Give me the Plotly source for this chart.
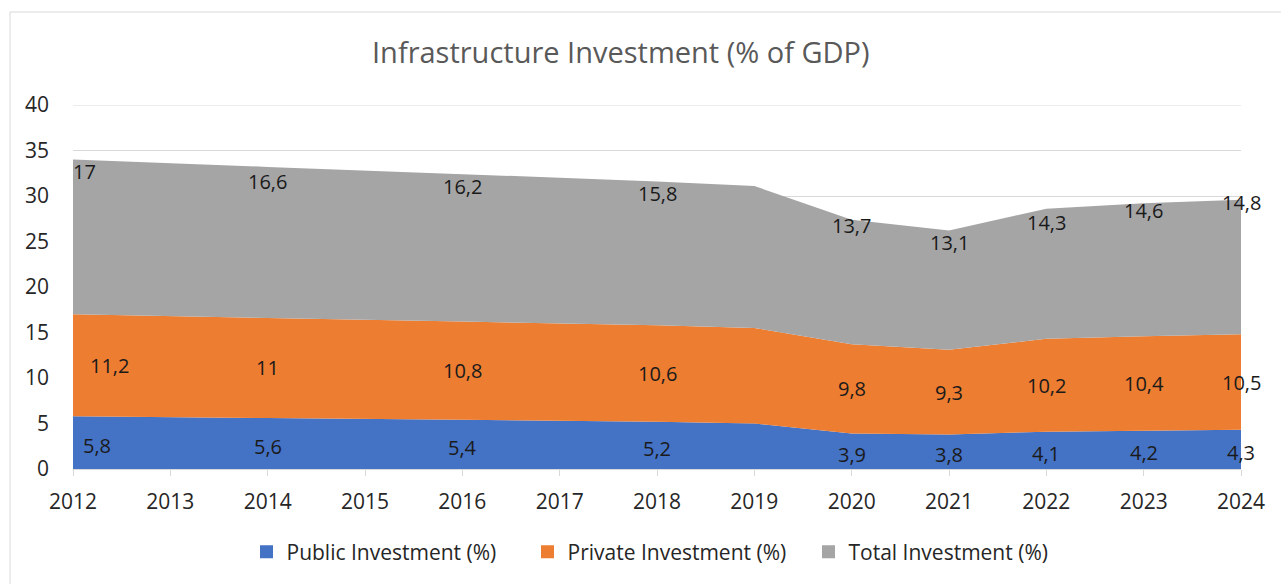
import plotly.graph_objects as go

# ---- data ----
years = [2012, 2014, 2016, 2018, 2019, 2020, 2021, 2022, 2023, 2024]
public = [5.8, 5.6, 5.4, 5.2, 5.0, 3.9, 3.8, 4.1, 4.2, 4.3]
private = [11.2, 11.0, 10.8, 10.6, 10.5, 9.8, 9.3, 10.2, 10.4, 10.5]
total = [17, 16.6, 16.2, 15.8, 15.6, 13.7, 13.1, 14.3, 14.6, 14.8]
labelled = [True, True, True, True, False, True, True, True, True, True]
series_names = ["Public Investment (%)", "Private Investment (%)", "Total Investment (%)"]
x_ticks = list(range(2012, 2025))
y_ticks = [0, 5, 10, 15, 20, 25, 30, 35, 40]

# ---- style ----
colors = ["#4472C4", "#ED7D31", "#A5A5A5"]
FONT = "Open Sans"
W, H = 1281, 584
L, R, T, B = 73, 40, 105, 115
# pixel offset of the top-series labels below the area's upper edge (label placement style)
top_label_drop = {2012: 12, 2014: 15, 2016: 12, 2018: 12, 2020: 6,
                  2021: 12, 2022: 14, 2023: 7, 2024: 3}

def fmt(v):
    return f"{v:g}".replace(".", ",")

fig = go.Figure()
series = [public, private, total]
for name, vals, col in zip(series_names, series, colors):
    fig.add_trace(go.Scatter(
        x=years, y=vals, name=name, mode="none", stackgroup="one",
        fillcolor=col, line=dict(width=0), showlegend=False,
        hoverinfo="x+y+name"))

# legend proxies (square swatches)
for name, col in zip(series_names, colors):
    fig.add_trace(go.Scatter(
        x=[None], y=[None], name=name, mode="markers",
        marker=dict(symbol="square", size=13, color=col)))

# data labels
first_xshift = [24, 36, 11]
annotations = []
for i, yr in enumerate(years):
    if not labelled[i]:
        continue
    base = 0.0
    for s, vals in enumerate(series):
        v = vals[i]
        if s < 2:
            ypos = base + v / 2
            yshift = -3 if s == 0 else 0
        else:
            ypos = base + v
            yshift = -top_label_drop.get(yr, 11)
        xshift = first_xshift[s] if i == 0 else 0
        annotations.append(dict(
            x=yr, y=ypos, xref="x", yref="y", text=fmt(v), showarrow=False,
            xshift=xshift, yshift=yshift,
            font=dict(family=FONT, size=20, color="#1a1a1a")))
        base += v

pw = W - L - R
ph = H - T - B
annotations.append(dict(
    x=(621 - L) / pw, y=(H - 51 - B) / ph, xref="paper", yref="paper",
    text="Infrastructure Investment (% of GDP)", showarrow=False,
    xanchor="center", yanchor="middle",
    font=dict(family=FONT, size=29, color="#595959")))

fig.update_layout(
    width=W, height=H,
    margin=dict(l=L, r=R, t=T, b=B, pad=0),
    paper_bgcolor="white", plot_bgcolor="white",
    font=dict(family=FONT, size=20, color="#262626"),
    annotations=annotations,
    showlegend=True,
    legend=dict(orientation="h", x=(668 - L) / pw, xanchor="center",
                y=(H - 552 - B) / ph, yanchor="middle",
                traceorder="normal",
                font=dict(family=FONT, size=21, color="#262626"),
                itemwidth=30, entrywidth=236, entrywidthmode="pixels",
                tracegroupgap=0, bgcolor="rgba(0,0,0,0)"),
    shapes=[
        dict(type="rect", xref="paper", yref="paper",
             x0=(10 - L) / pw, x1=(1290 - L) / pw,
             y0=(H - 600 - B) / ph, y1=(H - 12 - B) / ph,
             line=dict(color="#d9d9d9", width=1), fillcolor="rgba(0,0,0,0)",
             layer="below"),
        dict(type="line", xref="paper", yref="y", x0=0, x1=1,
             y0=y_ticks[-1], y1=y_ticks[-1],
             line=dict(color="#d9d9d9", width=1), layer="below"),
    ],
)

fig.update_xaxes(
    range=[2012, 2024], tickmode="array", tickvals=x_ticks,
    ticktext=[str(t) for t in x_ticks],
    showgrid=False, zeroline=False, showline=True, linecolor="#d9d9d9",
    ticks="outside", ticklen=6, tickcolor="#d9d9d9",
    ticklabelstandoff=8,
    tickfont=dict(family=FONT, size=21, color="#262626"))
fig.update_yaxes(
    range=[0, 40], tickmode="array", tickvals=y_ticks,
    showgrid=True, gridcolor="#d9d9d9", gridwidth=1, zeroline=False,
    showline=False, ticks="", ticklabelstandoff=23,
    tickfont=dict(family=FONT, size=21, color="#262626"))

fig.write_html("out.html", config={"displayModeBar": False},
               post_script="document.body.style.margin='0';")
